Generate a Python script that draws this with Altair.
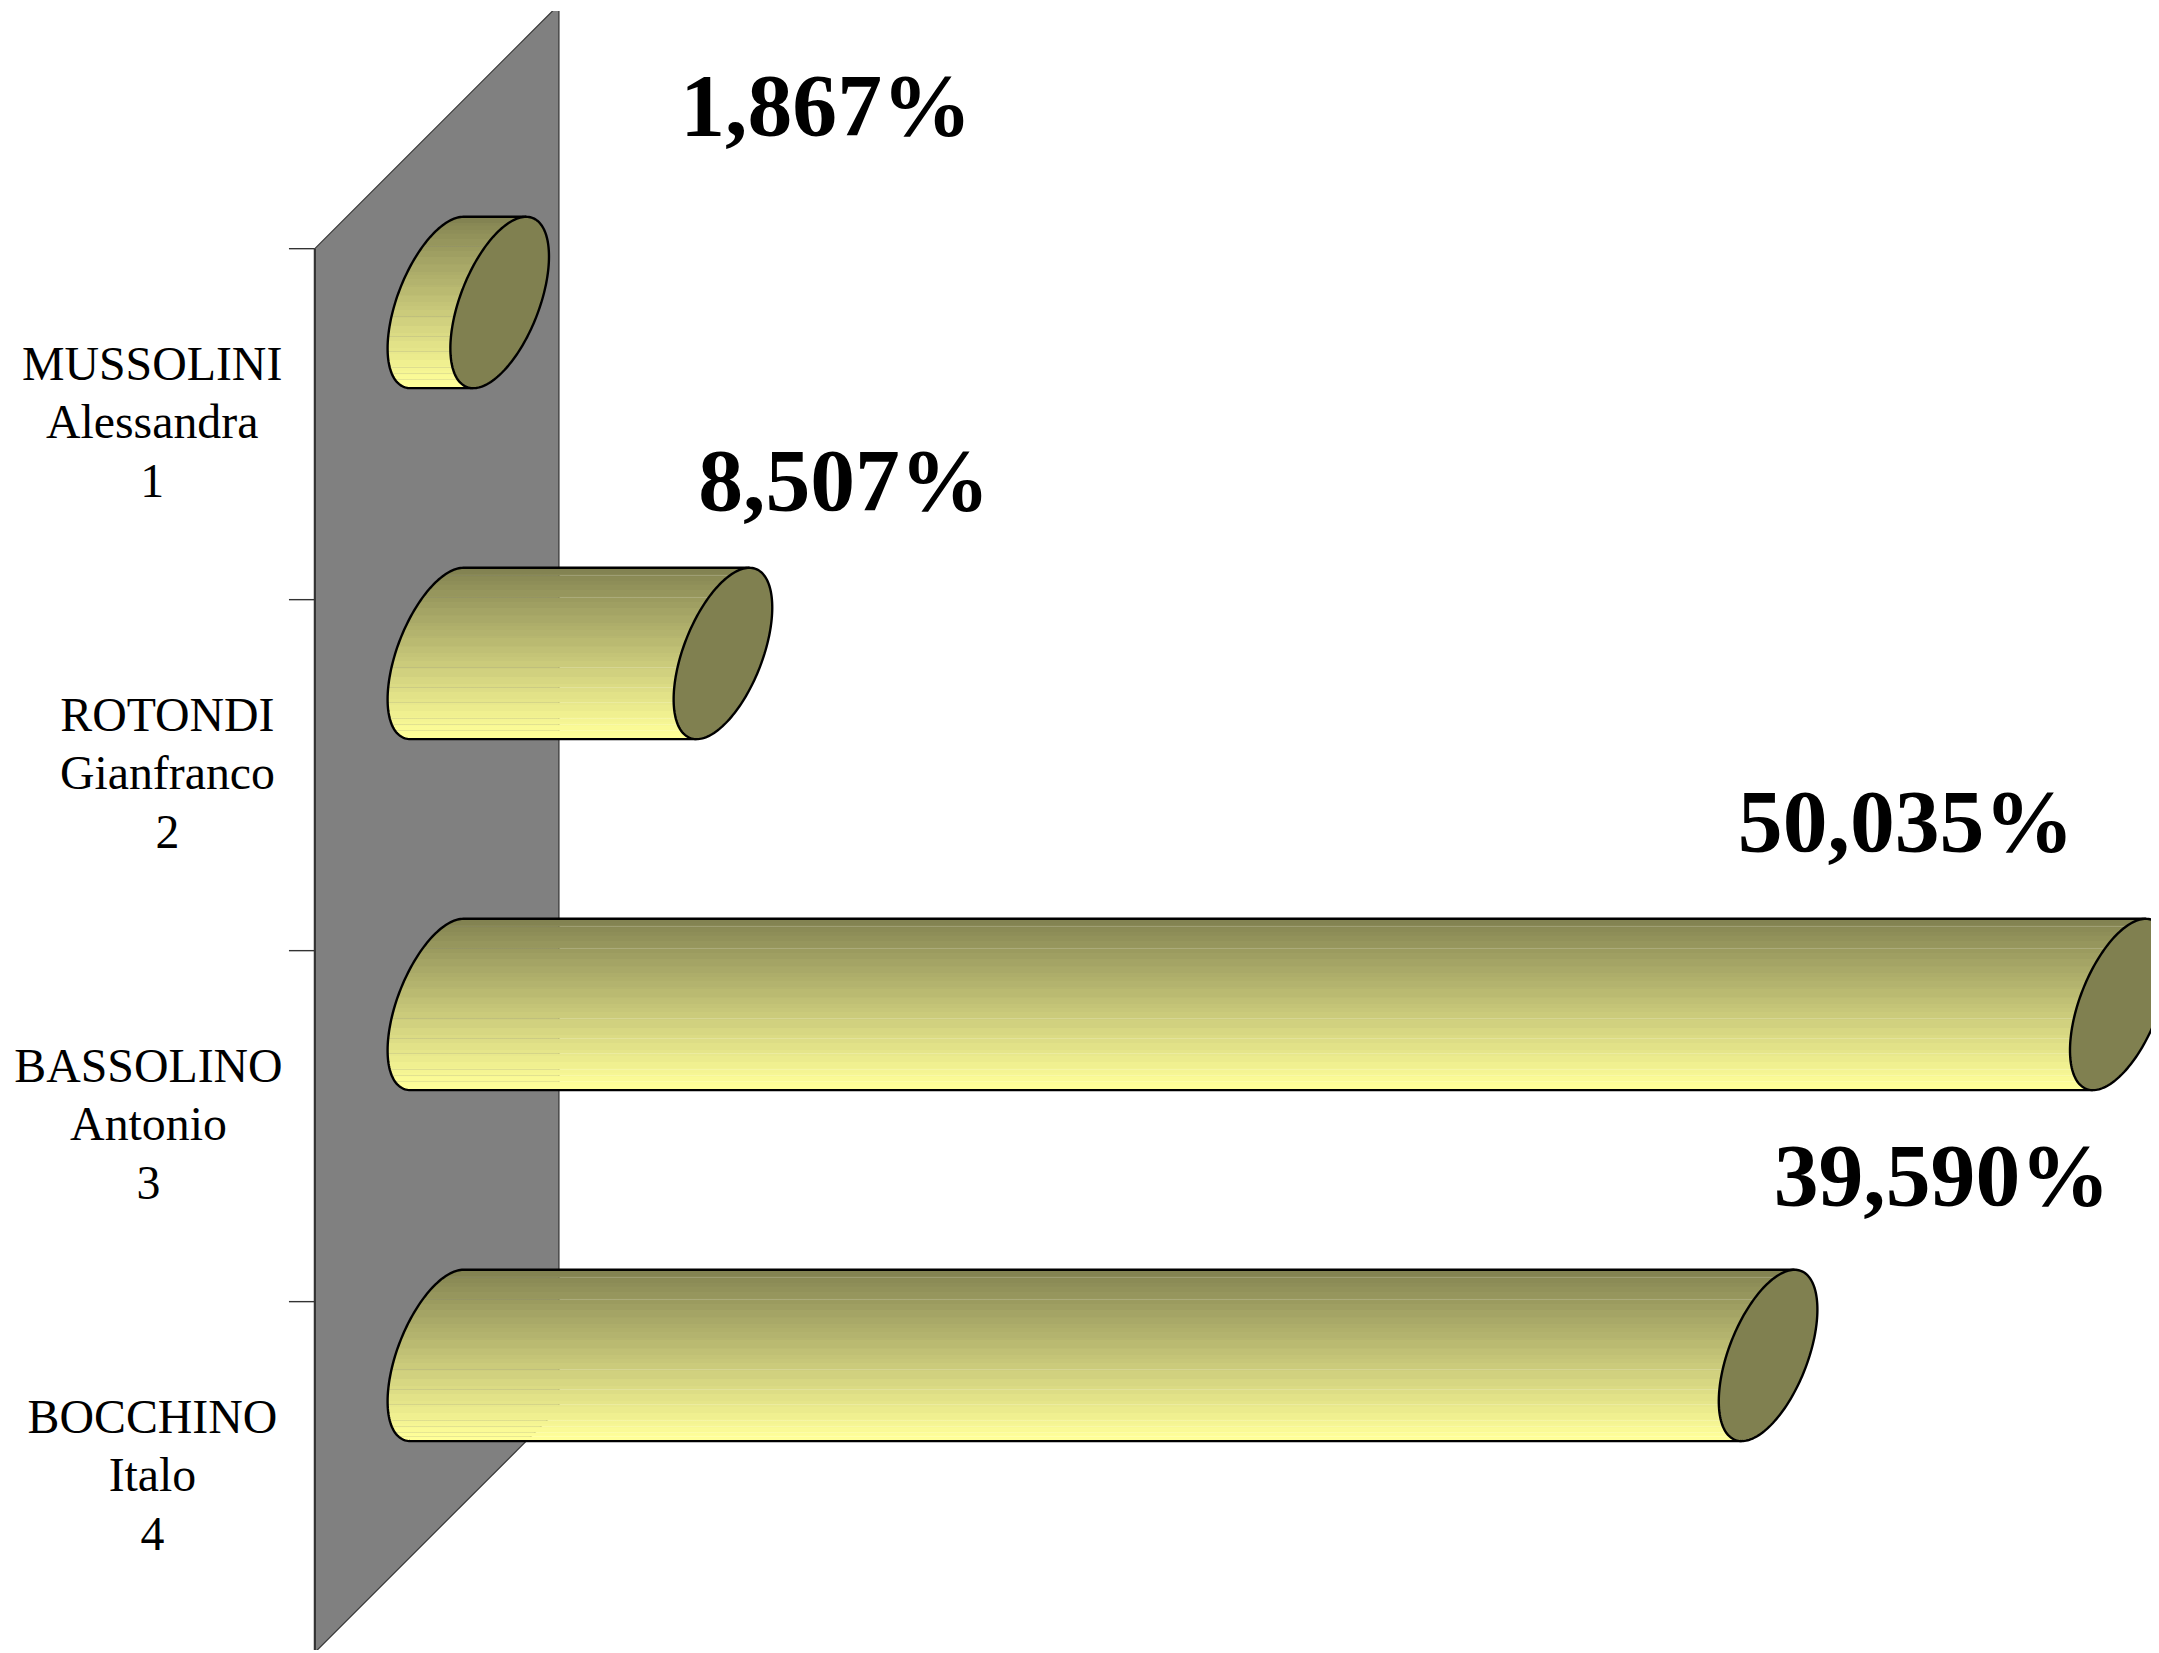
import math
import altair as alt
import pandas as pd

# ---- data ----
surnames = ["MUSSOLINI", "ROTONDI", "BASSOLINO", "BOCCHINO"]
names = ["Alessandra", "Gianfranco", "Antonio", "Italo"]
numbers = ["1", "2", "3", "4"]
values = [1.867, 8.507, 50.035, 39.590]
value_labels = ["1,867%", "8,507%", "50,035%", "39,590%"]

# ---- layout (page pixels converted through the scales below) ----
W, H = 2151, 1645
KX, X0 = 33.75, 438.5      # px per percent, page x of value 0
KY, Y0 = 352.3, 250.0      # px per row, page y of row 0
ORIGIN_Y = 11.5            # page y that the top of the plot is mapped from


def px(x):
    return (x - X0) / KX


def ry(y):
    return (y - Y0) / KY


x_scale = alt.Scale(domain=[px(8), px(8 + W)], nice=False, zero=False)
y_scale = alt.Scale(domain=[ry(ORIGIN_Y + H), ry(ORIGIN_Y)], nice=False, zero=False)
X = lambda f="x": alt.X(f, type="quantitative", scale=x_scale, axis=None)
Y = lambda f="y": alt.Y(f, type="quantitative", scale=y_scale, axis=None)

A, B = 41.8 / KX, 26.5 / KX     # ellipse half axes along x
RB, RC = 86 / KY, 54 / KY       # ellipse half height, row centre offset
WALL_L, WALL_R = px(316), px(561)

# gradient with bands and the seams of the stripes
TOP, BOT = (0x80, 0x80, 0x50), (0xFF, 0xFF, 0x99)
SEAMS = [.016, .045, .093, .17, .28, .337, .396, .46, .518, .58, .697, .784, .833, .877, .914, .949, .973]
BANDS = 34


def col(t, a=1.0):
    t = min(1.0, t + 0.025) if t > 0.03 else t
    c = [round(TOP[i] + (BOT[i] - TOP[i]) * t) for i in range(3)]
    return f"rgba({c[0]},{c[1]},{c[2]},{a})"


def gradient():
    cuts = sorted({(1 - math.cos(math.pi * i / BANDS)) / 2 for i in range(BANDS + 1)} | set(SEAMS))
    stops = []
    sw = 0.004
    for a, b in zip(cuts[:-1], cuts[1:]):
        c = col((a + b) / 2)
        lo, hi = a, b
        if a in SEAMS:
            lo = a + sw
            stops += [(a, col(a, .82)), (lo, col(a, .82))]
        stops += [(lo, c), (hi, c)]
    return alt.Gradient(gradient="linear", x1=0, x2=0, y1=0, y2=1,
                        stops=[alt.GradientStop(offset=o, color=c) for o, c in stops])


fill = gradient()
layers = []

# wall
wall = pd.DataFrame({"x": [WALL_L, WALL_R], "y": [ry(250), ry(5)], "y2": [ry(1659), ry(1414)]})
layers.append(alt.Chart(wall).mark_area(color="#808080", clip=True).encode(x=X(), y=Y(), y2="y2"))
edges = pd.DataFrame({
    "x": [WALL_L, WALL_R, WALL_L, WALL_R, WALL_R, WALL_R],
    "y": [ry(250), ry(5), ry(1659), ry(1414), ry(5), ry(1414)],
    "e": ["t", "t", "b", "b", "r", "r"],
})
layers.append(alt.Chart(edges).mark_line(color="#333333", strokeWidth=1.2, clip=True).encode(x=X(), y=Y(), detail="e:N"))
left = pd.DataFrame({"x": [WALL_L, WALL_L], "y": [ry(250), ry(1659)]})
layers.append(alt.Chart(left).mark_line(color="#333333", strokeWidth=2.2, clip=True).encode(x=X(), y=Y()))
ticks = pd.DataFrame({"x": px(290), "x2": WALL_L, "y": [0, 1, 2, 3]})
layers.append(alt.Chart(ticks).mark_rule(color="#333333", strokeWidth=1.4, clip=True).encode(x=X(), x2="x2", y=Y()))

# cylinders
N = 90
for i, v in enumerate(values):
    centre = i + RC
    body, cap, outline, ring = [], [], [], []
    for k in range(N + 1):
        th = math.pi / 2 - math.pi * k / N       # top to bottom
        s, c = math.sin(th), math.cos(th)
        y = centre - RB * s
        body.append({"y": y, "x": -A * c + B * s, "x2": v + B * s})
        cap.append({"y": y, "x": v - A * c + B * s, "x2": v + A * c + B * s})
    m = 0
    outline.append({"k": m, "x": v - B, "y": centre + RB})
    for k in range(N, -1, -1):
        m += 1
        th = math.pi / 2 - math.pi * k / N
        s, c = math.sin(th), math.cos(th)
        outline.append({"k": m, "x": -A * c + B * s, "y": centre - RB * s})
    outline.append({"k": m + 1, "x": v + B, "y": centre - RB})
    for k in range(2 * N + 1):
        th = 2 * math.pi * k / (2 * N)
        ring.append({"k": k, "x": v + A * math.cos(th) + B * math.sin(th), "y": centre - RB * math.sin(th)})
    layers.append(alt.Chart(pd.DataFrame(body)).mark_area(orient="horizontal", color=fill, clip=True)
                  .encode(y=Y(), x=X(), x2="x2"))
    layers.append(alt.Chart(pd.DataFrame(cap)).mark_area(orient="horizontal", color="#808050", clip=True)
                  .encode(y=Y(), x=X(), x2="x2"))
    layers.append(alt.Chart(pd.DataFrame(outline)).mark_line(color="black", strokeWidth=2.4, clip=True)
                  .encode(x=X(), y=Y(), order="k:Q"))
    layers.append(alt.Chart(pd.DataFrame(ring)).mark_line(color="black", strokeWidth=2.4, clip=True)
                  .encode(x=X(), y=Y(), order="k:Q"))

# value labels
label_x = [829, 847, 1913, 1949]
label_y = [136, 512, 855, 1210]
vals = pd.DataFrame({"x": [px(a) for a in label_x], "y": [ry(b) for b in label_y], "t": value_labels})
layers.append(alt.Chart(vals).mark_text(font="Liberation Serif", fontWeight="bold", fontSize=90,
                                        align="center", baseline="alphabetic", color="black")
              .encode(x=X(), y=Y(), text="t:N"))

# category labels, each line centred on its block
block_x = [152.7, 168, 149, 153]
rows = []
for i in range(4):
    for j, t in enumerate([surnames[i], names[i], numbers[i]]):
        rows.append({"x": px(block_x[i]), "y": i + ry(382 + 58.5 * j), "t": t})
layers.append(alt.Chart(pd.DataFrame(rows)).mark_text(font="Liberation Serif", fontSize=48, align="center",
                                                      baseline="alphabetic", color="black")
              .encode(x=X(), y=Y(), text="t:N"))

chart = alt.layer(*layers).properties(
    width=W, height=H, padding=0, autosize=alt.AutoSizeParams(type="none"), background="white"
).configure_view(stroke=None)
chart.save("out.html", embed_options={"renderer": "svg", "actions": False})
